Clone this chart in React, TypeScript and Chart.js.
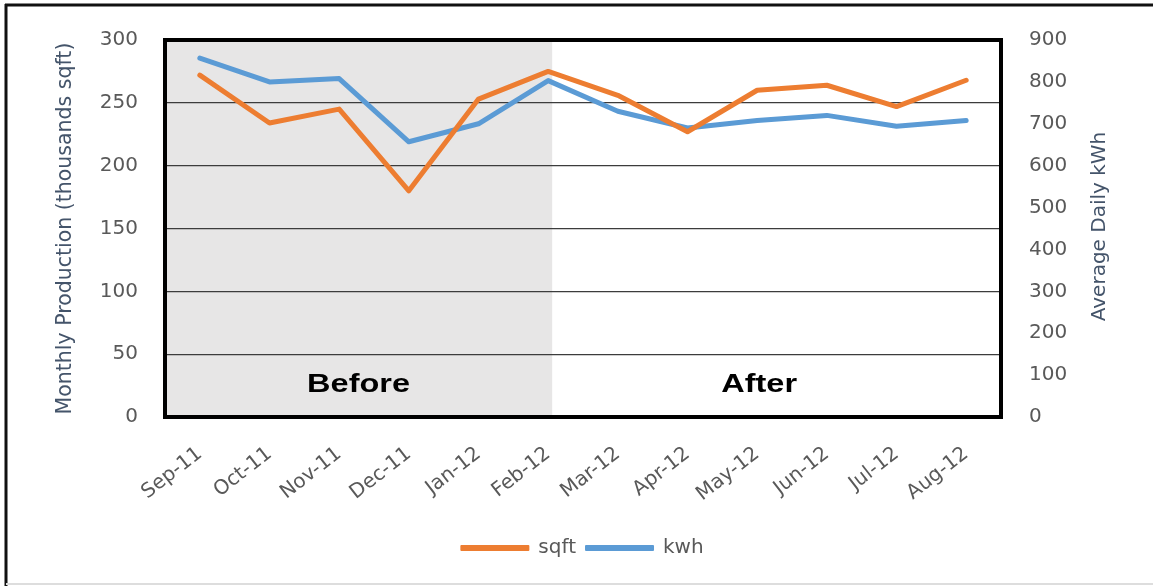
import React, { useEffect, useRef } from "react";
import { Chart, registerables } from "chart.js";

Chart.register(...registerables);

const categories = ["Sep-11", "Oct-11", "Nov-11", "Dec-11", "Jan-12", "Feb-12", "Mar-12", "Apr-12", "May-12", "Jun-12", "Jul-12", "Aug-12"];
const sqftValues = [272, 234, 245, 180, 253, 275, 256, 227, 260, 264, 247, 268];
const kwhValues = [857, 800, 808, 657, 700, 803, 730, 690, 708, 720, 694, 708];
const leftAxisRange = [0, 300, 50];
const rightAxisRange = [0, 900, 100];
const seriesNames = ["sqft", "kwh"];
const leftTitle = "Monthly Production (thousands sqft)";
const rightTitle = "Average Daily kWh";
const periodLabels = ["Before", "After"];
const lastBeforeCategory = "Feb-12";
const afterLabelCategory = "May-12";

const ORANGE = "#ED7D31";
const BLUE = "#5B9BD5";
const TICK_COLOR = "#595959";
const TITLE_COLOR = "#44546A";
const FONT = "'DejaVu Sans', sans-serif";

const decorPlugin = {
  id: "decor",
  beforeDraw(chart: any) {
    const { ctx, chartArea, scales } = chart;
    const { left, top, bottom } = chartArea;
    const xEnd = scales.x.getPixelForValue(categories.indexOf(lastBeforeCategory)) + 4;
    ctx.save();
    ctx.fillStyle = "#FFFFFF";
    ctx.fillRect(0, 0, chart.width, chart.height);
    ctx.fillStyle = "#E7E6E6";
    ctx.fillRect(left, top, xEnd - left, bottom - top);
    ctx.restore();
  },
  afterDatasetsDraw(chart: any) {
    const { ctx, chartArea, scales } = chart;
    const { left, right, top, bottom } = chartArea;
    const xEnd = scales.x.getPixelForValue(categories.indexOf(lastBeforeCategory)) + 4;
    const xAfter = scales.x.getPixelForValue(categories.indexOf(afterLabelCategory));
    ctx.save();
    ctx.fillStyle = "#000000";
    ctx.font = "bold 25px 'Liberation Sans', Arial, sans-serif";
    ctx.textAlign = "center";
    ctx.textBaseline = "alphabetic";
    const baseY = bottom - 25;
    ctx.save();
    ctx.translate((left + xEnd) / 2, baseY);
    ctx.scale(1.3, 1);
    ctx.fillText(periodLabels[0], 0, 0);
    ctx.restore();
    ctx.save();
    ctx.translate(xAfter + 2, baseY);
    ctx.scale(1.3, 1);
    ctx.fillText(periodLabels[1], 0, 0);
    ctx.restore();
    // plot border
    ctx.strokeStyle = "#000000";
    ctx.lineWidth = 4;
    ctx.strokeRect(left, top, right - left, bottom - top);
    ctx.restore();
  },
  afterDraw(chart: any) {
    const { ctx, chartArea, scales } = chart;
    ctx.save();
    // right axis title, reading bottom-to-top
    const y1 = scales.y1;
    ctx.fillStyle = TITLE_COLOR;
    ctx.font = "20px " + FONT;
    ctx.textAlign = "center";
    ctx.textBaseline = "middle";
    ctx.translate(y1.right - 12, (chartArea.top + chartArea.bottom) / 2 - 2);
    ctx.rotate(-Math.PI / 2);
    ctx.fillText(rightTitle, 0, 0);
    ctx.restore();

    ctx.save();
    ctx.strokeStyle = "#111111";
    ctx.lineWidth = 3;
    ctx.beginPath();
    ctx.moveTo(5, 5);
    ctx.lineTo(chart.width, 5);
    ctx.moveTo(6, 4);
    ctx.lineTo(6, chart.height);
    ctx.stroke();
    ctx.strokeStyle = "#DDDDDD";
    ctx.lineWidth = 2;
    ctx.beginPath();
    ctx.moveTo(6, chart.height - 2);
    ctx.lineTo(chart.width, chart.height - 2);
    ctx.stroke();
    ctx.restore();
  },
};

export default function App() {
  const canvasRef = useRef<HTMLCanvasElement | null>(null);

  useEffect(() => {
    if (!canvasRef.current) return;
    const chart = new Chart(canvasRef.current, {
      type: "line",
      data: {
        labels: categories,
        datasets: [
          {
            label: seriesNames[0],
            data: sqftValues,
            yAxisID: "y",
            borderColor: ORANGE,
            backgroundColor: ORANGE,
            borderWidth: 5,
            pointRadius: 0,
            borderCapStyle: "round",
            borderJoinStyle: "round",
            tension: 0,
          },
          {
            label: seriesNames[1],
            data: kwhValues,
            yAxisID: "y1",
            borderColor: BLUE,
            backgroundColor: BLUE,
            borderWidth: 5,
            pointRadius: 0,
            borderCapStyle: "round",
            borderJoinStyle: "round",
            tension: 0,
          },
        ],
      },
      options: {
        animation: false,
        responsive: true,
        maintainAspectRatio: false,
        layout: { padding: { left: 53, right: 41, top: 38, bottom: 18 } },
        plugins: {
          tooltip: { enabled: false },
          legend: {
            position: "bottom",
            labels: {
              boxWidth: 67,
              boxHeight: 4,
              padding: 10,
              color: TICK_COLOR,
              font: { family: FONT, size: 20 },
              generateLabels(chart: any) {
                return chart.data.datasets.map((ds: any, i: number) => ({
                  text: ds.label,
                  fillStyle: ds.borderColor,
                  strokeStyle: ds.borderColor,
                  lineWidth: 2,
                  lineJoin: "round",
                  lineCap: "round",
                  fontColor: TICK_COLOR,
                  hidden: false,
                  datasetIndex: i,
                }));
              },
            },
          },
        },
        scales: {
          x: {
            offset: true,
            grid: { display: false, drawTicks: false },
            border: { display: false },
            ticks: {
              minRotation: 38,
              maxRotation: 38,
              padding: 25,
              color: TICK_COLOR,
              font: { family: FONT, size: 20 },
              autoSkip: false,
            },
            afterFit(scale: any) {
              scale.height = 111;
            },
          },
          y: {
            position: "left",
            min: leftAxisRange[0],
            max: leftAxisRange[1],
            ticks: {
              stepSize: leftAxisRange[2],
              padding: 27,
              color: TICK_COLOR,
              font: { family: FONT, size: 20 },
            },
            grid: { color: "#3C3C3C", lineWidth: 1.3, drawTicks: false },
            border: { display: false },
            title: {
              display: true,
              text: leftTitle,
              color: TITLE_COLOR,
              font: { family: FONT, size: 20.5 },
              padding: 0,
            },
            afterFit(scale: any) {
              scale.width = 112;
            },
          },
          y1: {
            position: "right",
            min: rightAxisRange[0],
            max: rightAxisRange[1],
            ticks: {
              stepSize: rightAxisRange[2],
              padding: 28,
              color: TICK_COLOR,
              font: { family: FONT, size: 20 },
            },
            grid: { display: false, drawTicks: false },
            border: { display: false },
            afterFit(scale: any) {
              scale.width = 111;
            },
          },
        },
      },
      plugins: [decorPlugin],
    } as any);
    return () => chart.destroy();
  }, []);

  return (
    <div style={{ position: "fixed", left: 0, top: 0, width: 1153, height: 586, background: "#fff" }}>
      <canvas ref={canvasRef} />
    </div>
  );
}
